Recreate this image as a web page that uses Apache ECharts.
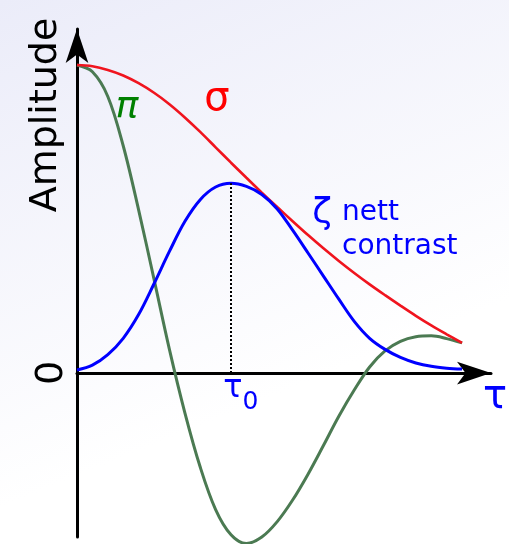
<!DOCTYPE html>
<html>
<head>
<meta charset="utf-8">
<script src="https://cdn.jsdelivr.net/npm/echarts@6/dist/echarts.min.js"></script>
<style>
  html, body { margin: 0; padding: 0; background: #fff; }
  #chart { width: 509px; height: 544px; }
</style>
</head>
<body>
<div id="chart"></div>
<script>
// Sample positions along the delay axis (tau0 = 1)
const tau = [0.0, 0.1, 0.2, 0.3, 0.4, 0.5, 0.6, 0.7, 0.8, 0.9, 1.0, 1.1, 1.2,
             1.3, 1.4, 1.5, 1.6, 1.7, 1.8, 1.9, 2.0, 2.1, 2.2, 2.3, 2.4, 2.5];

// sigma envelope (red)
const sigma = [1.000, 0.996, 0.984, 0.966, 0.941, 0.910, 0.873, 0.830, 0.783, 0.733,
               0.683, 0.634, 0.586, 0.539, 0.493, 0.448, 0.405, 0.364, 0.325, 0.288,
               0.253, 0.219, 0.186, 0.155, 0.126, 0.098];

// zeta: nett contrast (blue)
const zeta = [0.010, 0.026, 0.060, 0.113, 0.190, 0.290, 0.395, 0.492, 0.563, 0.604,
              0.616, 0.606, 0.580, 0.533, 0.464, 0.390, 0.315, 0.240, 0.168, 0.113,
              0.077, 0.051, 0.033, 0.022, 0.016, 0.013];

// pi (green)
const pi = [1.000, 0.978, 0.898, 0.738, 0.530, 0.305, 0.077, -0.128, -0.305, -0.443,
            -0.525, -0.553, -0.532, -0.482, -0.412, -0.328, -0.235, -0.140, -0.055, 0.020,
            0.072, 0.103, 0.118, 0.121, 0.112, 0.098];

const tau0 = 1.0;
const tau0Index = tau.indexOf(tau0);

const pairs = (ys) => tau.map((t, i) => [t, ys[i]]);

const chart = echarts.init(document.getElementById('chart'), null, { renderer: 'canvas' });

const curve = (name, ys, color, width, z) => ({
  name: name,
  type: 'line',
  data: pairs(ys),
  smooth: 0.35,
  smoothMonotone: 'none',
  showSymbol: false,
  clip: false,
  silent: true,
  lineStyle: { color: color, width: width },
  z: z
});

const zetaSeries = curve('zeta', zeta, '#0000ff', 3, 4);
// dotted drop line from the zeta maximum at tau0 down to the axis
zetaSeries.markLine = {
  silent: true,
  symbol: ['none', 'none'],
  label: { show: false },
  lineStyle: { color: '#000', width: 2, type: [2, 2] },
  data: [[{ coord: [tau0, 0] }, { coord: [tau0, zeta[tau0Index]] }]]
};

const option = {
  animation: false,
  backgroundColor: 'transparent',
  grid: { left: 77, right: 18, top: 29, bottom: 7, containLabel: false },
  xAxis: {
    type: 'value',
    min: 0,
    max: 2.688,
    axisLine: {
      show: true,
      onZero: true,
      symbol: ['none', 'arrow'],
      symbolSize: [17, 34],
      lineStyle: { color: '#000', width: 3 }
    },
    axisTick: { show: false },
    axisLabel: { show: false },
    splitLine: { show: false }
  },
  yAxis: {
    type: 'value',
    min: -0.532,
    max: 1.117,
    axisLine: {
      show: true,
      symbol: ['none', 'arrow'],
      symbolSize: [17, 34],
      lineStyle: { color: '#000', width: 3 }
    },
    axisTick: { show: false },
    axisLabel: { show: false },
    splitLine: { show: false }
  },
  series: [
    curve('pi', pi, '#4b7a52', 3, 2),
    curve('sigma', sigma, '#f0141e', 2.6, 3),
    zetaSeries
  ],
  graphic: [
    {
      type: 'rect', z: -10, silent: true,
      shape: { x: 0, y: 0, width: 509, height: 544 },
      style: {
        fill: new echarts.graphic.LinearGradient(0, 0, 0.35, 0.8, [
          { offset: 0, color: '#ebecf9' },
          { offset: 1, color: '#ffffff' }
        ])
      }
    },
    {
      type: 'text', x: 46, y: 115, rotation: Math.PI / 2,
      style: { text: 'Amplitude', font: '38px "DejaVu Sans"', fill: '#000', align: 'center', verticalAlign: 'middle' }
    },
    {
      type: 'text', x: 52, y: 373, rotation: Math.PI / 2,
      style: { text: '0', font: '38px "DejaVu Sans"', fill: '#000', align: 'center', verticalAlign: 'middle' }
    },
    {
      type: 'text', x: 217, y: 100,
      style: { text: 'σ', font: '40px "DejaVu Sans"', fill: '#ff0000', align: 'center', verticalAlign: 'middle' }
    },
    {
      type: 'text', x: 127, y: 107,
      style: { text: 'π', font: 'italic 38px "DejaVu Sans"', fill: '#008000', align: 'center', verticalAlign: 'middle' }
    },
    {
      type: 'text', x: 322, y: 214,
      style: { text: 'ζ', font: '36px "DejaVu Sans"', fill: '#0000ff', align: 'center', verticalAlign: 'middle' }
    },
    {
      type: 'text', x: 342, y: 213,
      style: { text: 'nett', font: '28px "DejaVu Sans"', fill: '#0000ff', align: 'left', verticalAlign: 'middle' }
    },
    {
      type: 'text', x: 342, y: 247,
      style: { text: 'contrast', font: '28px "DejaVu Sans"', fill: '#0000ff', align: 'left', verticalAlign: 'middle' }
    },
    {
      type: 'text', x: 495, y: 398,
      style: { text: 'τ', font: '40px "DejaVu Sans"', fill: '#0000ff', align: 'center', verticalAlign: 'middle' }
    },
    {
      type: 'text', x: 233, y: 389,
      style: { text: 'τ', font: '32px "DejaVu Sans"', fill: '#0000ff', align: 'center', verticalAlign: 'middle' }
    },
    {
      type: 'text', x: 250.5, y: 402,
      style: { text: '0', font: '25px "DejaVu Sans"', fill: '#0000ff', align: 'center', verticalAlign: 'middle' }
    }
  ]
};

chart.setOption(option);
</script>
</body>
</html>
